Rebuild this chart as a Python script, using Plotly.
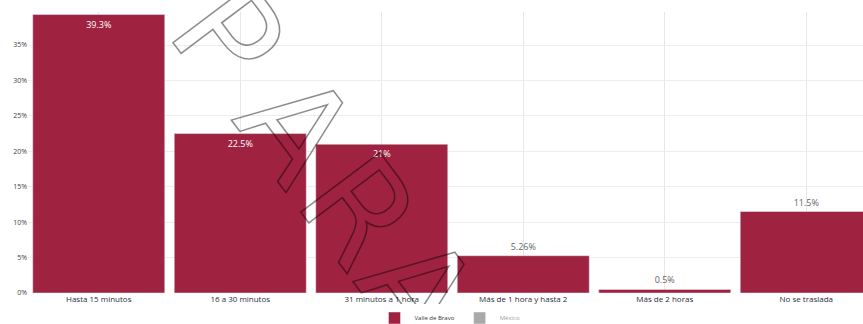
import base64
import plotly.graph_objects as go

# Datos
categorias = ["Hasta 15 minutos", "16 a 30 minutos", "31 minutos a 1 hora",
              "Más de 1 hora y hasta 2", "Más de 2 horas", "No se traslada"]
valores_local = [39.3, 22.5, 21, 5.26, 0.5, 11.5]
valores_mexico = [None, None, None, None, None, None]
nombre_local = "Valle de Bravo"
nombre_mexico = "México"
posicion_texto = ["inside", "inside", "inside", "outside", "outside", "outside"]

# la figura es algo más ancha que la ventana: la última barra queda cortada
W, H = 877, 324
ML, MR, MT, MB = 28, 0, 12, 31
GUINDA = "#9F2241"

fig = go.Figure()

fig.add_trace(go.Bar(
    x=categorias,
    y=valores_local,
    name=nombre_local,
    marker_color=GUINDA,
    text=[f"{v:g}%" for v in valores_local],
    texttemplate="%{text}",
    textposition=posicion_texto,
    insidetextanchor="end",
    textangle=0,
    constraintext="none",
    insidetextfont=dict(color="white", size=9, family="Open Sans"),
    outsidetextfont=dict(color="#666666", size=9, family="Open Sans"),
    cliponaxis=True,
))

fig.add_trace(go.Bar(
    x=categorias,
    y=valores_mexico,
    name=nombre_mexico,
    marker_color="#555555",
    visible="legendonly",
))

# Marca de agua "PARA" (solo contorno)
pw = W - ML - MR
ph = H - MT - MB
svg = (
    f'<svg xmlns="http://www.w3.org/2000/svg" width="{W}" height="{H}" viewBox="0 0 {W} {H}">'
    '<text transform="translate(165 32) rotate(53)" dx="0 26 0 0" '
    'font-family="DejaVu Sans" font-size="136" letter-spacing="10" '
    'fill="none" stroke="rgba(0,0,0,0.45)" stroke-width="1.6">PARA</text></svg>'
)
src = "data:image/svg+xml;base64," + base64.b64encode(svg.encode("utf-8")).decode("ascii")
fig.add_layout_image(dict(
    source=src,
    xref="paper", yref="paper",
    x=-ML / pw, y=1 + MT / ph,
    sizex=W / pw, sizey=H / ph,
    xanchor="left", yanchor="top",
    sizing="stretch",
    layer="above",
))

fig.update_layout(
    width=W,
    height=H,
    margin=dict(l=ML, r=MR, t=MT, b=MB, autoexpand=False),
    plot_bgcolor="white",
    paper_bgcolor="white",
    bargap=0.067,
    font=dict(family="Open Sans", color="#333333"),
    showlegend=True,
    legend=dict(
        orientation="h",
        x=(450 - ML) / pw,
        xanchor="center",
        y=-0.089,
        yanchor="middle",
        font=dict(size=6, color="#333333"),
        itemclick=False,
    ),
)

fig.update_xaxes(
    showgrid=True,
    gridcolor="#e6e6e6",
    gridwidth=1,
    tickfont=dict(size=8, color="#2b2b3a"),
    showline=False,
    zeroline=False,
    automargin=False,
    fixedrange=True,
)

fig.update_yaxes(
    range=[0, 39.66],
    dtick=5,
    ticksuffix="%",
    showgrid=True,
    gridcolor="#eeeeee",
    gridwidth=1,
    tickfont=dict(size=7, color="#444444"),
    zeroline=False,
    showline=False,
    automargin=False,
    fixedrange=True,
)

fig.write_html(
    "out.html",
    config={"displayModeBar": False},
    post_script="document.body.style.margin='0';document.body.style.overflow='hidden';",
)
